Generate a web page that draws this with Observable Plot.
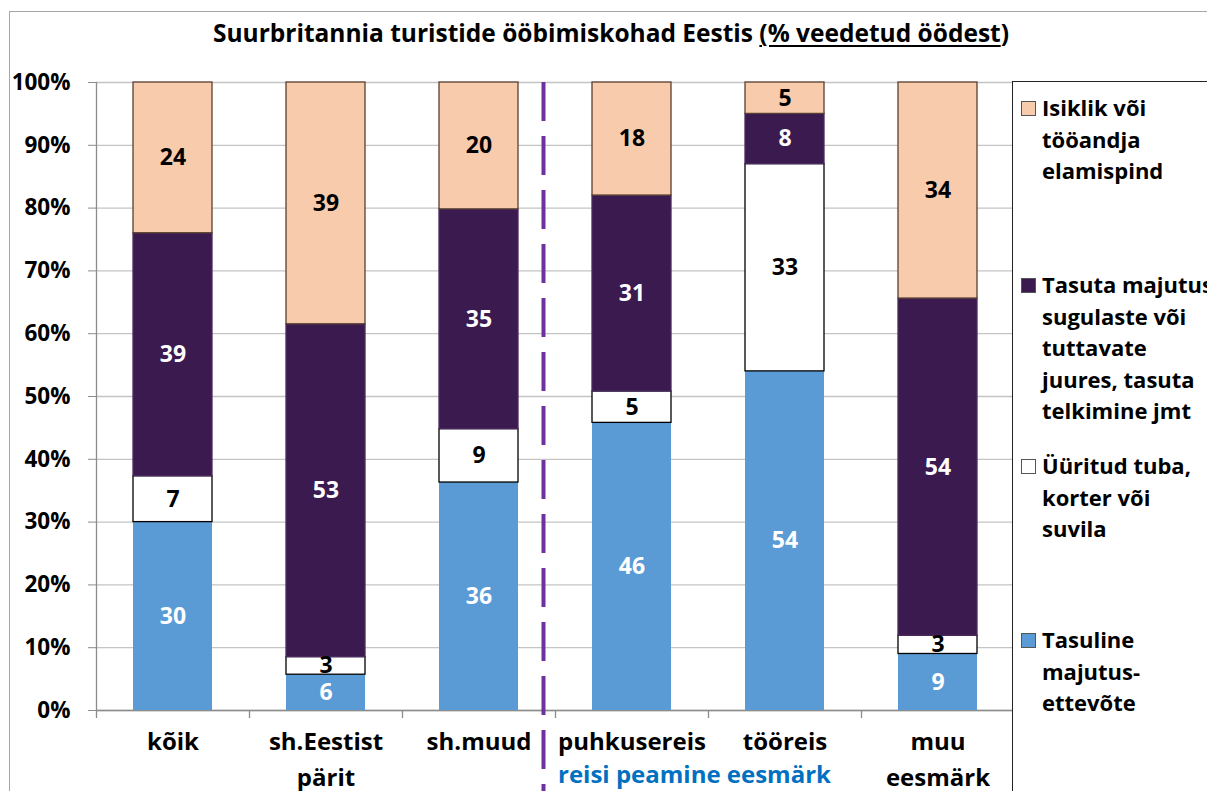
<!DOCTYPE html>
<html>
<head>
<meta charset="utf-8">
<script src="https://cdn.jsdelivr.net/npm/d3@7"></script>
<script src="https://cdn.jsdelivr.net/npm/@observablehq/plot@0.6"></script>
<style>
  html, body { margin: 0; padding: 0; background: #fff; }
  #wrap { position: relative; width: 1207px; height: 791px; overflow: hidden; background: #fff;
          font-family: "Open Sans", sans-serif; font-weight: bold; color: #000; }
  #frame { position: absolute; left: 9px; top: 11px; width: 1300px; height: 900px;
           border-left: 1.5px solid #a6a6a6; border-top: 1.5px solid #a6a6a6; }
  #title { position: absolute; left: 0; width: 1222px; top: 16px; text-align: center; font-size: 24.5px; }
  #title u { text-decoration-thickness: 2px; text-underline-offset: 3px; }
  #chart { position: absolute; left: 0; top: 50px; }
  #legend { position: absolute; left: 1012px; top: 81px; width: 260px; height: 800px;
            border: 1.5px solid #222; background: #fff; }
  .item { position: absolute; left: 29px; font-size: 22px; line-height: 31.5px; white-space: pre; }
  .sw { position: absolute; left: -21px; top: 9px; width: 13px; height: 13px; border: 1px solid #555; }
</style>
</head>
<body>
<div id="wrap">
  <div id="frame"></div>
  <div id="title">Suurbritannia turistide ööbimiskohad Eestis <u>(% veedetud öödest</u>)</div>
  <div id="chart"></div>
  <div id="legend"></div>
</div>
<script>
// ---- data ----
const categories = ["kõik", "sh.Eestist pärit", "sh.muud", "puhkusereis", "tööreis", "muu eesmärk"];
const tickLabels = ["kõik", "sh.Eestist\npärit", "sh.muud", "puhkusereis", "tööreis", "muu\neesmärk"];
const seriesNames = [
  "Tasuline majutusettevõte",
  "Üüritud tuba, korter või suvila",
  "Tasuta majutus sugulaste või tuttavate juures, tasuta telkimine jmt",
  "Isiklik või tööandja elamispind"
];
const legendLabels = [
  "Tasuline\nmajutus-\nettevõte",
  "Üüritud tuba,\nkorter või\nsuvila",
  "Tasuta majutus\nsugulaste või\ntuttavate\njuures, tasuta\ntelkimine jmt",
  "Isiklik või\ntööandja\nelamispind"
];
const tasuline = [30, 5.7, 36.3, 45.8, 54, 9];
const yyritud  = [7.3, 2.8, 8.5, 5, 33, 2.9];
const tasuta   = [38.7, 53, 35, 31.2, 8, 53.7];
const isiklik  = [24, 38.5, 20.2, 18, 5, 34.4];
const groupLabel = "reisi peamine eesmärk";
const yTicks = [0, 10, 20, 30, 40, 50, 60, 70, 80, 90, 100];

// ---- styles ----
const fills   = ["#5B9BD5", "#FFFFFF", "#3B1A4F", "#F8CBAD"];
const strokes = ["none", "#000000", "#4a2a60", "#5a4030"];
const textFill = ["#FFFFFF", "#000000", "#FFFFFF", "#000000"];

const seriesValues = [tasuline, yyritud, tasuta, isiklik];
const rows = [];
seriesNames.forEach((s, si) => categories.forEach((c, ci) =>
  rows.push({cat: c, series: s, si, value: seriesValues[si][ci]})));

const half = 76.5; // half a category step in px
const chart = Plot.plot({
  width: 1014, height: 741,
  marginLeft: 96, marginRight: 0, marginTop: 32, marginBottom: 81,
  style: {fontFamily: "Open Sans, sans-serif", fontWeight: "bold", background: "transparent", overflow: "visible"},
  x: {domain: categories, paddingInner: 0.484, paddingOuter: 0.242, label: null},
  y: {domain: [0, 100], label: null},
  color: {type: "identity"},
  marks: [
    Plot.gridY(yTicks, {stroke: "#c4c4c4", strokeOpacity: 1, strokeWidth: 1.3}),
    Plot.axisY(yTicks, {tickFormat: d => d + "%", tickSize: 8, tickPadding: 18, fontSize: 22.5,
      fontWeight: "bold", fill: "#000", stroke: "#8c8c8c", label: null}),
    Plot.ruleX([categories[0]], {dx: -half, stroke: "#8c8c8c", strokeWidth: 1.3}),
    Plot.ruleY([0], {stroke: "#8c8c8c", strokeWidth: 1.3}),
    Plot.ruleX(categories, {y1: 0, y2: 0, insetBottom: -8, dx: -half, stroke: "#8c8c8c", strokeWidth: 1.3}),
    Plot.barY(rows, Plot.stackY({x: "cat", y: "value", z: "series",
      fill: d => fills[d.si], stroke: d => strokes[d.si], strokeWidth: 1.3})),
    Plot.text(rows, Plot.stackY({x: "cat", y: "value", z: "series",
      text: d => Math.round(d.value), fill: d => textFill[d.si], fontSize: 23, fontWeight: "bold"})),
    Plot.ruleX(["sh.muud"], {dx: 64.5, insetBottom: -81, stroke: "#7030A0", strokeWidth: 4, strokeDasharray: "39,15"}),
    Plot.axisX({tickFormat: d => tickLabels[categories.indexOf(d)], tickSize: 0, tickPadding: 14,
      fontSize: 24, fontWeight: "bold", lineHeight: 1.5, fill: "#000", label: null}),
    Plot.text([groupLabel], {x: () => "puhkusereis", y: () => 0, text: d => d, dx: -74, dy: 65,
      textAnchor: "start", fill: "#0070C0", fontSize: 24, fontWeight: "bold"})
  ]
});
document.getElementById("chart").appendChild(chart);

// ---- legend ----
const legend = document.getElementById("legend");
const firstLineCenters = [639, 465, 284, 107];
seriesNames.forEach((s, si) => {
  const it = document.createElement("div");
  it.className = "item";
  it.style.top = (firstLineCenters[si] - 81 - 15.75) + "px";
  it.textContent = legendLabels[si];
  const sw = document.createElement("div");
  sw.className = "sw";
  sw.style.background = fills[si];
  it.appendChild(sw);
  legend.appendChild(it);
});
</script>
</body>
</html>
